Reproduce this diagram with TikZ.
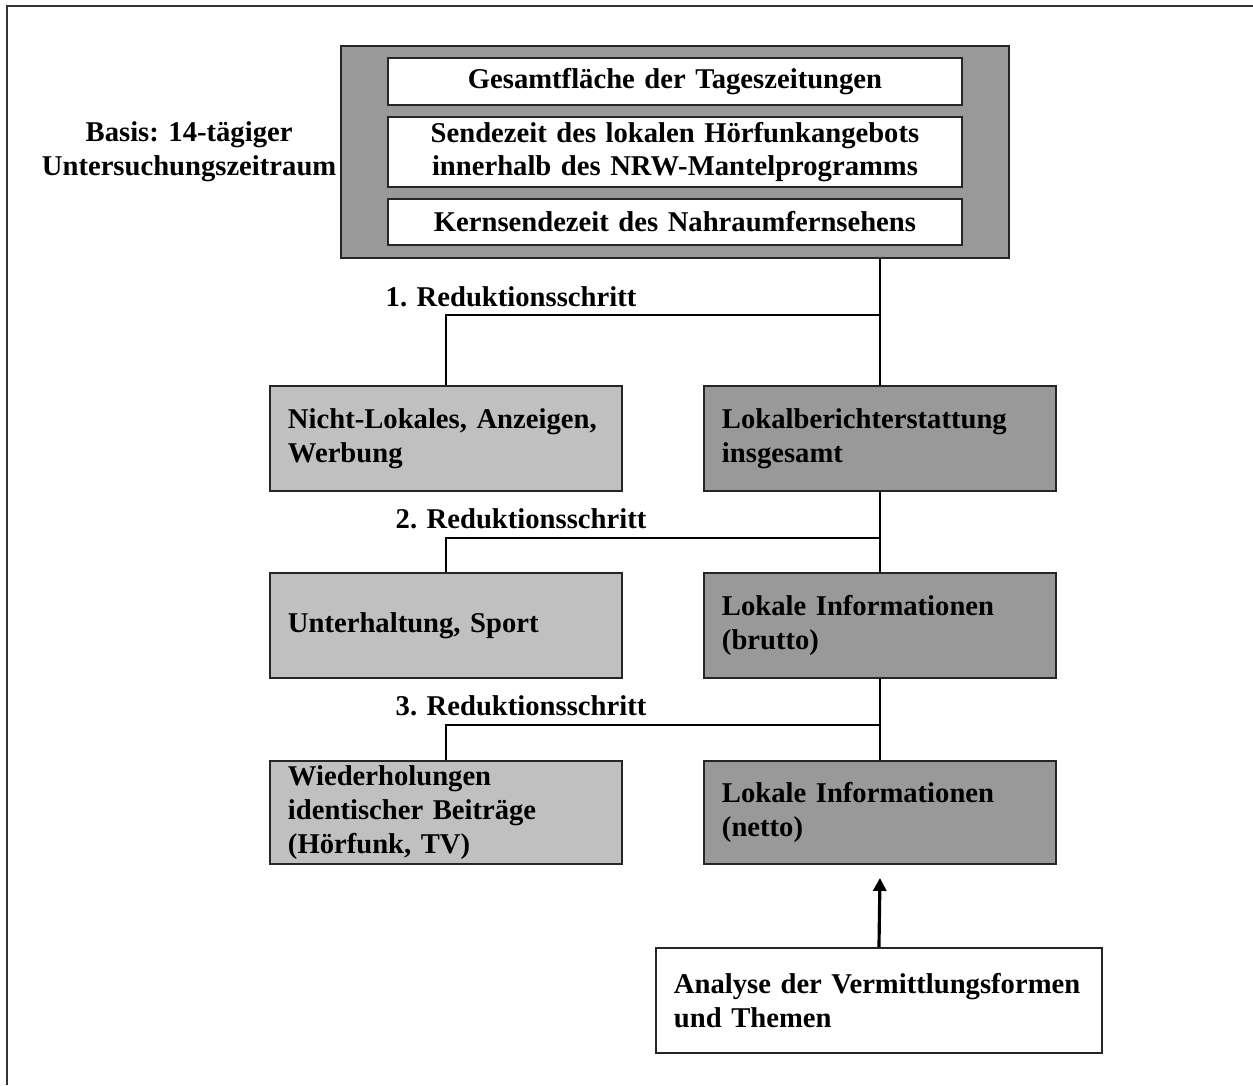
\documentclass[tikz,border=0pt]{standalone}
\usepackage{fontspec}
\setmainfont{Liberation Serif}
\usetikzlibrary{positioning,arrows.meta}

\definecolor{darkbox}{HTML}{999999}
\definecolor{lightbox}{HTML}{C0C0C0}
\hyphenpenalty=10000
\exhyphenpenalty=10000

\tikzset{
  txt/.style={font=\fontsize{8.15}{9.6}\selectfont\bfseries},
  box/.style={txt, draw=black!85, line width=0.55pt, rectangle, anchor=north west,
    inner xsep=0.18cm, inner ysep=1pt, text width=3.16cm, minimum width=3.52cm,
    minimum height=1.05cm, align=left},
  innerbox/.style={txt, draw=black!85, line width=0.55pt, fill=white, anchor=north west,
    inner sep=1pt, text width=5.5cm, minimum width=5.74cm, align=center},
  steplabel/.style={txt, anchor=south west, inner sep=0pt},
  link/.style={line width=0.55pt}
}

\begin{document}
\begin{tikzpicture}
\useasboundingbox (0,0) rectangle (12.53,-10.85);

% frame
\draw[line width=0.5pt, black!80] (0.07,-10.85) -- (0.07,-0.06) -- (12.53,-0.06);

% basis
\node[draw=black!85, line width=0.55pt, fill=darkbox, anchor=north west,
  minimum width=6.68cm, minimum height=2.12cm] (basis) at (3.40,-0.45) {};
\node[innerbox, minimum height=0.47cm] (flaeche) at (3.87,-0.57) {Gesamtfläche der Tageszeitungen};
\node[innerbox, minimum height=0.70cm] (sendezeit) at (3.87,-1.16) {Sendezeit des lokalen Hörfunkangebots\\innerhalb des NRW-Mantelprogramms};
\node[innerbox, minimum height=0.46cm] (kernzeit) at (3.87,-1.98) {Kernsendezeit des Nahraumfernsehens};
\node[txt, align=center, inner sep=0pt, left=0.03cm of basis.west] (basislabel) {Basis: 14-tägiger\\Untersuchungszeitraum};

% left column
\node[box, fill=lightbox] (nichtlokal) at (2.69,-3.85) {Nicht-Lokales, Anzeigen,\\Werbung};
\node[box, fill=lightbox] (unterhaltung) at (2.69,-5.72) {Unterhaltung, Sport};
\node[box, fill=lightbox, minimum height=1.03cm] (wiederholung) at (2.69,-7.60) {Wiederholungen\\identischer Beiträge\\(Hörfunk, TV)};

% right column
\node[box, fill=darkbox] (lokal) at (7.03,-3.85) {Lokalberichterstattung\\insgesamt};
\node[box, fill=darkbox] (brutto) at (7.03,-5.72) {Lokale Informationen\\(brutto)};
\node[box, fill=darkbox, minimum height=1.03cm] (netto) at (7.03,-7.60) {Lokale Informationen\\(netto)};

% reduction steps
\coordinate (step1) at (0,-3.15);
\coordinate (step2) at (0,-5.38);
\coordinate (step3) at (0,-7.25);
\node[steplabel] (r1) at (3.85,-3.08) {1. Reduktionsschritt};
\node[steplabel] (r2) at (3.95,-5.30) {2. Reduktionsschritt};
\node[steplabel] (r3) at (3.95,-7.17) {3. Reduktionsschritt};

\draw[link] (lokal.north |- basis.south) -- (lokal.north);
\draw[link] (lokal.north |- step1) -- (nichtlokal.north |- step1) -- (nichtlokal.north);
\draw[link] (lokal.south) -- (brutto.north);
\draw[link] (lokal.north |- step2) -- (unterhaltung.north |- step2) -- (unterhaltung.north);
\draw[link] (brutto.south) -- (netto.north);
\draw[link] (lokal.north |- step3) -- (wiederholung.north |- step3) -- (wiederholung.north);

% analysis
\node[box, fill=white, text width=4.10cm, minimum width=4.46cm] (analyse) at (6.55,-9.47) {Analyse der Vermittlungsformen\\und Themen};
\draw[line width=0.9pt, -{Triangle[length=0.13cm, width=0.13cm]}] (analyse.north) -- ([yshift=-0.13cm]netto.south);
\end{tikzpicture}
\end{document}
